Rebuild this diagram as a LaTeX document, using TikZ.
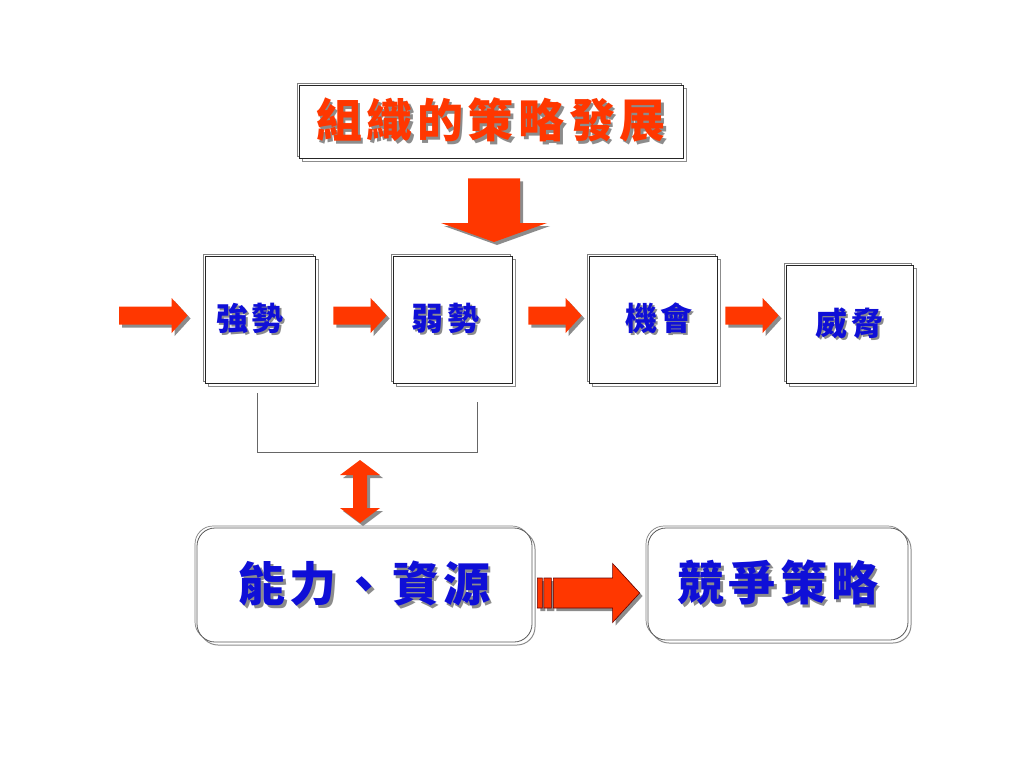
\documentclass[tikz,border=0pt]{standalone}
\usepackage{fontspec}
\newfontfamily\cjk{Noto Sans CJK TC}
\usetikzlibrary{calc}
\usetikzlibrary{shadows}
\usepackage{xcolor}
\definecolor{arrowred}{RGB}{255,55,0}
\definecolor{textblue}{RGB}{15,15,215}
\definecolor{shadowgray}{RGB}{140,140,140}
\newcommand\shadowed[3]{\leavevmode\rlap{\kern#3\raisebox{-#3}{\textcolor{shadowgray}{#2}}}\textcolor{#1}{#2}}

\begin{document}
\begin{tikzpicture}[x=1pt, y=-1pt,
 framed/.style={draw=black!85, line width=.8pt, fill=white, inner sep=0pt,
   preaction={draw=shadowgray, line width=1pt, transform canvas={shift={(3pt,-3pt)}}},
   preaction={draw=gray, line width=.7pt, transform canvas={shift={(-2pt,2pt)}}}},
 rbox/.style={framed, rounded corners=18pt, draw=black!65},
 rowfont/.style={font=\cjk\bfseries\fontsize{32}{38}\selectfont\addfontfeatures{LetterSpace=12}},
 bigfont/.style={font=\cjk\bfseries\fontsize{47}{56}\selectfont\addfontfeatures{LetterSpace=9}},
 arrowshadow/.style={general shadow={shadow xshift=3pt, shadow yshift=-3pt, fill=shadowgray}},
 fatarrow/.style={fill=arrowred, arrowshadow, to path={
   ($(\tikztostart)+(0,-9)$) -- ($(\tikztotarget)+(-16,-9)$) -- ($(\tikztotarget)+(-16,-17.5)$) -- (\tikztotarget)
   -- ($(\tikztotarget)+(-16,17.5)$) -- ($(\tikztotarget)+(-16,9)$) -- ($(\tikztostart)+(0,9)$) -- cycle}},
 fatdown/.style={fill=arrowred, arrowshadow, to path={
   ($(\tikztostart)+(-26,0)$) -- ($(\tikztotarget)+(-26,-19)$) -- ($(\tikztotarget)+(-53,-19)$) -- (\tikztotarget)
   -- ($(\tikztotarget)+(53,-19)$) -- ($(\tikztotarget)+(26,-19)$) -- ($(\tikztostart)+(26,0)$) -- cycle}},
 twoway/.style={fill=arrowred, arrowshadow, to path={
   (\tikztostart) -- ($(\tikztostart)+(20,15)$) -- ($(\tikztostart)+(7,15)$) -- ($(\tikztotarget)+(7,-15)$)
   -- ($(\tikztotarget)+(20,-15)$) -- (\tikztotarget) -- ($(\tikztotarget)+(-20,-15)$) -- ($(\tikztotarget)+(-7,-15)$)
   -- ($(\tikztostart)+(-7,15)$) -- ($(\tikztostart)+(-20,15)$) -- cycle}},
 stripearrow/.style={fill=arrowred, draw=red!40!black, line width=.6pt, arrowshadow, to path={
   ($(\tikztostart)+(16,-15)$) -- ($(\tikztotarget)+(-27,-15)$) -- ($(\tikztotarget)+(-27,-29.5)$) -- (\tikztotarget)
   -- ($(\tikztotarget)+(-27,29.5)$) -- ($(\tikztotarget)+(-27,15)$) -- ($(\tikztostart)+(16,15)$) -- cycle
   ($(\tikztostart)+(0,-15)$) rectangle ($(\tikztostart)+(5,15)$)
   ($(\tikztostart)+(6.5,-15)$) rectangle ($(\tikztostart)+(14,15)$)}}]
\useasboundingbox (0,0) rectangle (1024,768);
% title and the row of four boxes
\node[framed, minimum width=384pt, minimum height=73pt, font=\cjk\bfseries\fontsize{46}{54}\selectfont\addfontfeatures{LetterSpace=10}] (title) at (491,121.5) {\shadowed{arrowred}{組織的策略發展}{2.5pt}};
\node[framed, rowfont, minimum width=110pt, minimum height=127pt] (strong) at (260,319.5) {\kern-20pt\shadowed{textblue}{強勢}{2pt}};
\node[framed, rowfont, minimum width=119pt, minimum height=127pt] (weak) at (452.5,319.5) {\kern-14pt\shadowed{textblue}{弱勢}{2pt}};
\node[framed, rowfont, minimum width=128pt, minimum height=127pt] (chance) at (653,319.5) {\kern12pt\shadowed{textblue}{機會}{2pt}};
\node[framed, rowfont, minimum width=127pt, minimum height=118pt] (threat) at (849.5,324) {\shadowed{textblue}{威脅}{2pt}};
% bottom boxes
\node[rbox, bigfont, minimum width=335pt, minimum height=114pt] (cap) at (364.5,585) {\shadowed{textblue}{能力、資源}{2.5pt}};
\node[rbox, bigfont, minimum width=260pt, minimum height=112pt] (plan) at (778,584) {\shadowed{textblue}{競爭策略}{2.5pt}};
% arrows
\coordinate (in) at (119,315.5);
\coordinate (fork) at (494,242);
\coordinate (dtop) at (360,460);
\coordinate (dbot) at (360,523);
\coordinate (brl) at (257,393);
\coordinate (brr) at (477,402);
\path[fatdown] ([xshift=3pt,yshift=-20pt]title.south) to (fork);
\path[fatarrow] (in) to ([xshift=-17pt,yshift=4pt]strong.west);
\path[fatarrow] ([xshift=18pt,yshift=4pt]strong.east) to ([xshift=-6pt,yshift=4pt]weak.west);
\path[fatarrow] ([xshift=16pt,yshift=4pt]weak.east) to ([xshift=-7pt,yshift=4pt]chance.west);
\path[fatarrow] ([xshift=8pt,yshift=4pt]chance.east) to ([xshift=-7pt,yshift=8.5pt]threat.west);
\draw[gray!80!black, line width=.8pt] (brl) -- ++(0,59) -| (brr);
\path[twoway] (dtop) to (dbot);
\path[stripearrow] ([xshift=5pt,yshift=-8pt]cap.east) to ([xshift=-8pt,yshift=-9pt]plan.west);
\end{tikzpicture}
\end{document}
